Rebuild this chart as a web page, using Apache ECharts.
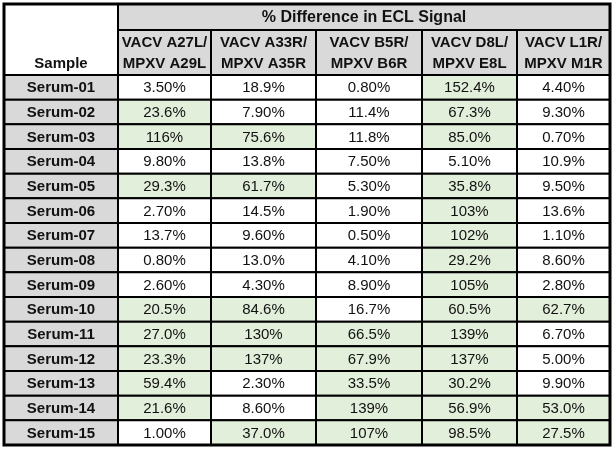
<!DOCTYPE html>
<html><head><meta charset="utf-8">
<script src="https://cdn.jsdelivr.net/npm/echarts@6/dist/echarts.min.js"></script>
<style>html,body{margin:0;padding:0;background:#fff}#c{width:616px;height:450px}</style>
</head><body><div id="c"></div>
<script>
const samples = ['Serum-01','Serum-02','Serum-03','Serum-04','Serum-05','Serum-06','Serum-07','Serum-08','Serum-09','Serum-10','Serum-11','Serum-12','Serum-13','Serum-14','Serum-15'];
const columnHeaders = [['VACV A27L/','MPXV A29L'],['VACV A33R/','MPXV A35R'],['VACV B5R/','MPXV B6R'],['VACV D8L/','MPXV E8L'],['VACV L1R/','MPXV M1R']];
const groupTitle = '% Difference in ECL Signal';
const sampleHeader = 'Sample';
const a27l = [3.50, 23.6, 116, 9.80, 29.3, 2.70, 13.7, 0.80, 2.60, 20.5, 27.0, 23.3, 59.4, 21.6, 1.00];
const a33r = [18.9, 7.90, 75.6, 13.8, 61.7, 14.5, 9.60, 13.0, 4.30, 84.6, 130, 137, 2.30, 8.60, 37.0];
const b5r  = [0.80, 11.4, 11.8, 7.50, 5.30, 1.90, 0.50, 4.10, 8.90, 16.7, 66.5, 67.9, 33.5, 139, 107];
const d8l  = [152.4, 67.3, 85.0, 5.10, 35.8, 103, 102, 29.2, 105, 60.5, 139, 137, 30.2, 56.9, 98.5];
const l1r  = [4.40, 9.30, 0.70, 10.9, 9.50, 13.6, 1.10, 8.60, 2.80, 62.7, 6.70, 5.00, 9.90, 53.0, 27.5];
const highlightThreshold = 20;

const FONT = '"Liberation Sans", Arial, sans-serif';
const colEdges = [0, 114, 207, 312, 418, 513, 606];
const headerH1 = 26, headerH2 = 45;
const GRAY = '#d9d9d9', GREEN = '#e2efda', TEXT = '#111';

function fmt(v) {
  if (v < 10) return v.toFixed(2) + '%';
  if (v < 100) return v.toFixed(1) + '%';
  return (Number.isInteger(v) ? v.toFixed(0) : v.toFixed(1)) + '%';
}

const valueCols = [a27l, a33r, b5r, d8l, l1r];
const cellData = [];
samples.forEach((s, r) => {
  cellData.push([0, r, -1]);
  valueCols.forEach((arr, c) => cellData.push([c + 1, r, arr[r]]));
});

function txt(text, x, y, bold, size) {
  return { type: 'text', z2: 10, style: { text: text, x: x, y: y, align: 'center', verticalAlign: 'middle', textAlign: 'center', textVerticalAlign: 'middle', font: (bold ? 'bold ' : '') + size + 'px ' + FONT, fill: TEXT } };
}
function rect(x, y, w, h, fill, lw) {
  return { type: 'rect', shape: { x: x, y: y, width: w, height: h }, style: { fill: fill, stroke: '#000', lineWidth: lw || 2 } };
}

const chart = echarts.init(document.getElementById('c'), null, { renderer: 'canvas' });
chart.setOption({
  animation: false,
  grid: { left: 4, right: 6, top: 75, bottom: 5 },
  xAxis: { type: 'value', min: 0, max: 606, show: false },
  yAxis: { type: 'category', data: samples, inverse: true, show: false },
  series: [
    {
      type: 'custom',
      clip: false,
      data: cellData,
      renderItem: function (params, api) {
        const c = api.value(0), r = api.value(1), v = api.value(2);
        const x0 = api.coord([colEdges[c], r])[0];
        const x1 = api.coord([colEdges[c + 1], r])[0];
        const cy = api.coord([0, r])[1];
        const h = api.size([0, 1])[1];
        const fill = c === 0 ? GRAY : (v > highlightThreshold ? GREEN : '#fff');
        const label = c === 0 ? samples[r] : fmt(v);
        return { type: 'group', children: [
          rect(x0, cy - h / 2, x1 - x0, h, fill),
          txt(label, (x0 + x1) / 2, cy + 1, c === 0, 15)
        ] };
      }
    },
    {
      type: 'custom',
      clip: false,
      data: [[0, 0]],
      z: 3,
      renderItem: function (params, api) {
        const h = api.size([0, 1])[1];
        const top = api.coord([0, 0])[1] - h / 2;
        const bottom = api.coord([0, samples.length - 1])[1] + h / 2;
        const xs = colEdges.map(e => api.coord([e, 0])[0]);
        const y0 = top - headerH1 - headerH2;
        const children = [];
        children.push(rect(xs[0], y0, xs[1] - xs[0], headerH1 + headerH2, '#fff'));
        children.push(txt(sampleHeader, (xs[0] + xs[1]) / 2, top - 11, true, 15));
        children.push(rect(xs[1], y0, xs[6] - xs[1], headerH1, GRAY));
        children.push(txt(groupTitle, (xs[1] + xs[6]) / 2, y0 + headerH1 / 2 + 1, true, 16));
        columnHeaders.forEach((lines, i) => {
          const cx = (xs[i + 1] + xs[i + 2]) / 2;
          children.push(rect(xs[i + 1], top - headerH2, xs[i + 2] - xs[i + 1], headerH2, GRAY));
          children.push(txt(lines[0], cx, top - headerH2 + 13, true, 15));
          children.push(txt(lines[1], cx, top - headerH2 + 34, true, 15));
        });
        children.push({ type: 'rect', z2: 20, shape: { x: xs[0], y: y0, width: xs[6] - xs[0], height: bottom - y0 }, style: { fill: 'none', stroke: '#000', lineWidth: 3 } });
        return { type: 'group', children: children };
      }
    }
  ]
});
</script></body></html>
